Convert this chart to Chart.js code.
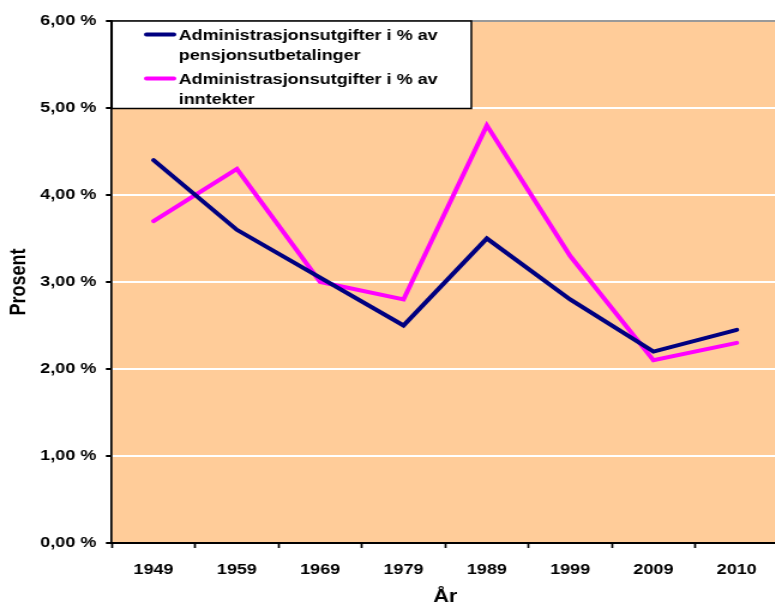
<!DOCTYPE html>
<html>
<head>
<meta charset="utf-8">
<title>Administrasjonsutgifter</title>
<script src="https://cdn.jsdelivr.net/npm/chart.js@4"></script>
<style>
  html, body { margin: 0; padding: 0; background: #fff; overflow: hidden; }
  #chart { display: block; }
</style>
</head>
<body>
<!-- the original picture is stretched sideways, so the canvas is too -->
<canvas id="chart" width="667" height="606" style="width:800px;height:606px"></canvas>
<script>
const years = ['1949', '1959', '1969', '1979', '1989', '1999', '2009', '2010'];
const pensjonUtbetalinger = [4.4, 3.6, 3.05, 2.5, 3.5, 2.8, 2.2, 2.45];
const inntekter = [3.7, 4.3, 3.0, 2.8, 4.8, 3.3, 2.1, 2.3];
const yTickLabels = ['0,00 %', '1,00 %', '2,00 %', '3,00 %', '4,00 %', '5,00 %', '6,00 %'];
const legendLines = [
  ['Administrasjonsutgifter i % av', 'pensjonsutbetalinger'],
  ['Administrasjonsutgifter i % av', 'inntekter']
];

const FONT = "'Liberation Sans', Arial, sans-serif";
Chart.defaults.font.family = FONT;
Chart.defaults.color = '#000';

// peach plot area
const plotBackground = {
  id: 'plotBackground',
  beforeDraw(chart) {
    const { ctx, chartArea: a } = chart;
    ctx.save();
    ctx.fillStyle = '#FFCC99';
    ctx.fillRect(a.left, a.top, a.right - a.left, a.bottom - a.top);
    ctx.restore();
  }
};

// white boxed legend sitting in the top-left of the plot
const boxLegend = {
  id: 'boxLegend',
  afterDraw(chart) {
    const { ctx, chartArea: a } = chart;
    const left = a.left, top = a.top, right = 393, bottom = 108.5;
    ctx.save();
    ctx.fillStyle = '#fff';
    ctx.fillRect(left, top, right - left, bottom - top);
    ctx.strokeStyle = '#000';
    ctx.lineWidth = 1.5;
    ctx.strokeRect(left, top, right - left, bottom - top);

    ctx.font = 'bold 15px ' + FONT;
    ctx.textAlign = 'left';
    ctx.textBaseline = 'alphabetic';
    chart.data.datasets.forEach((ds, i) => {
      const y0 = 40 + i * 44;
      ctx.strokeStyle = ds.borderColor;
      ctx.lineWidth = 4;
      ctx.lineCap = 'round';
      ctx.beginPath();
      ctx.moveTo(122, y0 - 5.5);
      ctx.lineTo(145, y0 - 5.5);
      ctx.stroke();
      ctx.fillStyle = '#000';
      legendLines[i].forEach((line, j) => {
        ctx.fillText(line, 149, y0 + j * 20);
      });
    });
    ctx.restore();
  }
};

new Chart(document.getElementById('chart'), {
  type: 'line',
  data: {
    labels: years,
    datasets: [
      {
        label: legendLines[0].join(' '),
        data: pensjonUtbetalinger,
        borderColor: '#000080',
        backgroundColor: '#000080',
        borderWidth: 4,
        borderCapStyle: 'round',
        pointRadius: 0,
        tension: 0
      },
      {
        label: legendLines[1].join(' '),
        data: inntekter,
        borderColor: '#FF00FF',
        backgroundColor: '#FF00FF',
        borderWidth: 4,
        borderCapStyle: 'round',
        pointRadius: 0,
        tension: 0
      }
    ]
  },
  options: {
    responsive: false,
    animation: false,
    layout: { padding: { top: 21, right: 18, bottom: 0, left: 0 } },
    plugins: {
      legend: { display: false },
      tooltip: { enabled: false }
    },
    scales: {
      x: {
        offset: true,
        afterFit: (s) => { s.height = 63; },
        grid: {
          offset: true,
          drawOnChartArea: false,
          drawTicks: true,
          tickLength: 5,
          color: 'rgba(0,0,0,0)',
          tickColor: '#000',
          tickWidth: 1.7
        },
        border: { color: '#000', width: 2 },
        ticks: {
          padding: 13,
          color: '#000',
          font: { size: 15, weight: 'bold' },
          maxRotation: 0
        },
        title: {
          display: true,
          text: 'År',
          color: '#000',
          font: { size: 18, weight: 'bold', lineHeight: 1 },
          padding: { top: 0, bottom: 0 }
        }
      },
      y: {
        min: 0,
        max: 6,
        afterFit: (s) => { s.width = 93.3; },
        grid: {
          color: (c) => (c.tick && c.tick.value === 6 ? '#999999' : '#ffffff'),
          lineWidth: 2,
          drawTicks: true,
          tickLength: 5,
          tickColor: '#000',
          tickWidth: 2
        },
        border: { color: '#000', width: 1.7 },
        ticks: {
          stepSize: 1,
          padding: 8,
          color: '#000',
          font: { size: 15, weight: 'bold' },
          callback: (v) => yTickLabels[v]
        },
        title: {
          display: true,
          text: 'Prosent',
          color: '#000',
          font: { size: 18, weight: 'bold', lineHeight: 1 },
          padding: { top: 7.5, bottom: 0 }
        }
      }
    }
  },
  plugins: [plotBackground, boxLegend]
});
</script>
</body>
</html>
